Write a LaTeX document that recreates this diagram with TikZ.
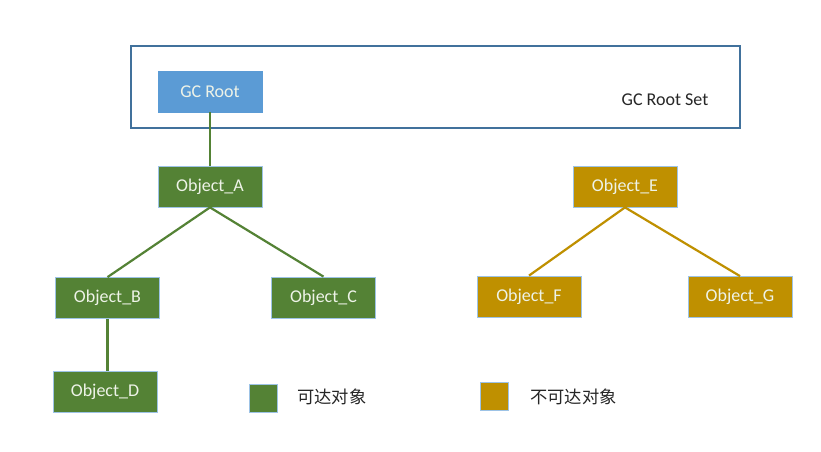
\documentclass[tikz,border=0pt]{standalone}
\usepackage{fontspec}
\setmainfont{Carlito}
\newfontfamily\cjk{Noto Sans CJK SC}
\definecolor{setblue}{HTML}{41719C}
\definecolor{rootblue}{HTML}{5B9BD5}
\definecolor{okgreen}{HTML}{548235}
\definecolor{badgold}{HTML}{BF9000}
\definecolor{rim}{HTML}{9DC3E6}
\definecolor{boxtext}{HTML}{EEF3E8}
\definecolor{labtext}{HTML}{262626}
\begin{document}
\begin{tikzpicture}[x=1pt,y=-1pt,
  obj/.style={rectangle, minimum width=104pt, minimum height=41pt, inner sep=0pt,
    draw=rim, line width=0.8pt, text=boxtext, font=\fontsize{18}{20}\selectfont},
  reach/.style={obj, fill=okgreen},
  unreach/.style={obj, fill=badgold},
  greenlink/.style={draw=okgreen, line width=2.2pt},
  goldlink/.style={draw=badgold, line width=2.2pt},
  legendbox/.style={rectangle, minimum width=28pt, minimum height=28pt, inner sep=0pt, draw=rim, line width=0.8pt},
  legendtext/.style={anchor=west, text=labtext, font=\cjk\fontsize{17.3}{19}\selectfont, inner sep=0pt}]
\useasboundingbox[fill=white] (0,0) rectangle (821,451);
\node[draw=setblue, line width=2pt, minimum width=609pt, minimum height=82pt, inner sep=0pt] (set) at (435.5,87) {};
\node[anchor=center, text=labtext, font=\fontsize{18}{20}\selectfont] (setlabel) at (665,100) {GC Root Set};
\node[obj, fill=rootblue, draw=rootblue] (root) at (210,91.5) {GC Root};
\node[reach] (A) at (210,186.5) {Object\_A};
\node[reach] (B) at (107.5,298) {Object\_B};
\node[reach] (C) at (323.5,297.5) {Object\_C};
\node[reach] (D) at (105,391.5) {Object\_D};
\node[unreach] (E) at (625,186.5) {Object\_E};
\node[unreach] (F) at (529,296.5) {Object\_F};
\node[unreach] (G) at (740,297) {Object\_G};
\draw[greenlink] (root.south) -- (A.north);
\draw[greenlink] (A.south) -- (B.north);
\draw[greenlink] (A.south) -- (C.north);
\draw[greenlink] (B.south) -- (B.south |- D.north);
\draw[goldlink] (E.south) -- (F.north);
\draw[goldlink] (E.south) -- (G.north);
\node[legendbox, fill=okgreen] (lg) at (263,398) {};
\node[legendtext] (lgt) at (297,397) {可达对象};
\node[legendbox, fill=badgold] (lb) at (494,396.5) {};
\node[legendtext] (lbt) at (530,397) {不可达对象};
\end{tikzpicture}
\end{document}
